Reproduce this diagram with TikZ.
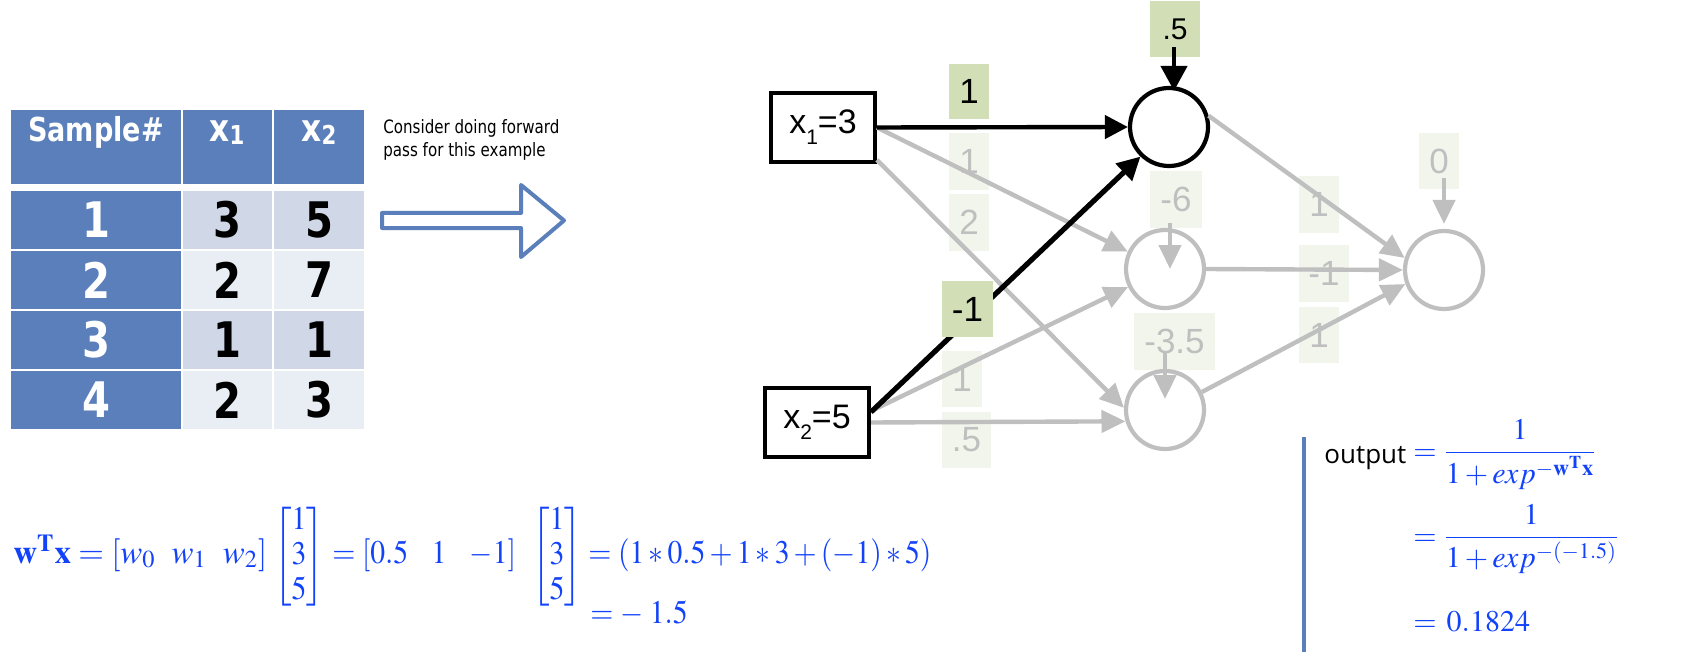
\documentclass[tikz,border=0pt]{standalone}
\usepackage{amsmath}
\usepackage{graphicx}
\usepackage{mathptmx}
\usepackage[no-math]{fontspec}
\usetikzlibrary{arrows.meta,calc}
\newfontfamily\tah[FakeStretch=0.82]{DejaVu Sans}
\newfontfamily\ari{Liberation Sans}
\newfontfamily\osans{Open Sans}
\definecolor{tblue}{HTML}{5A7FBA}
\definecolor{cellA}{HTML}{D0D8E8}
\definecolor{cellB}{HTML}{E9EDF4}
\definecolor{lgreen}{HTML}{D2DEB5}
\definecolor{fgreen}{HTML}{F2F5EC}
\definecolor{lgray}{HTML}{BFBFBF}
\definecolor{fblue}{RGB}{18,66,250}
\newcommand{\nx}[1]{\scalebox{0.9}[1]{#1}}
\tikzset{
  cell/.style={inner sep=0pt, outer sep=0pt},
  hcell/.style={cell, fill=tblue, text=white, font=\tah\bfseries\fontsize{24.5}{26}\selectfont},
  dcell/.style={cell, text=black, font=\tah\bfseries\fontsize{24.5}{26}\selectfont},
  inbox/.style={draw=black, line width=2pt, minimum width=52pt, minimum height=34.5pt, inner sep=0pt, font=\ari\fontsize{17}{20}\selectfont},
  neuronb/.style={circle, draw=black, line width=2.1pt, minimum size=39pt, inner sep=0pt},
  neurong/.style={circle, draw=lgray, line width=2.1pt, minimum size=39pt, inner sep=0pt},
  wlab/.style={fill=lgreen, inner sep=0pt, font=\ari\fontsize{17.5}{19}\selectfont},
  wfade/.style={fill=fgreen, text=lgray, inner sep=0pt, font=\ari\fontsize{17.5}{19}\selectfont},
  bline/.style={draw=black, line width=2.2pt, -{Triangle[length=11.5pt,width=11.5pt]}},
  gline/.style={draw=lgray, line width=2.2pt, -{Triangle[length=12pt,width=11pt]}},
  fml/.style={text=fblue, inner sep=0pt, font=\fontsize{16.5}{17.5}\selectfont},
  sml/.style={text=fblue, inner sep=0pt, font=\fontsize{15}{17}\selectfont},
}
\begin{document}
\begin{tikzpicture}[x=0.5pt,y=-0.5pt]
\path[use as bounding box] (0,0) rectangle (1684,668);

% ---------------- table ----------------
\node[cell, fill=tblue, minimum width=85pt, minimum height=37pt] (h0) at (96,147) {};
\node[cell, fill=tblue, minimum width=44.5pt, minimum height=37pt] (hx1) at (227.5,147) {};
\node[cell, fill=tblue, minimum width=45pt, minimum height=37pt] (hx2) at (319,147) {};
\node[anchor=base, inner sep=0pt, text=white, font=\tah\bfseries\fontsize{16.5}{18}\selectfont] (thsample) at (96,142) {Sample\#};
\node[anchor=base, inner sep=0pt, text=white, font=\tah\bfseries\fontsize{19}{19}\selectfont] (thx1) at (227,142) {x\raisebox{-1.5pt}{\fontsize{13}{13}\selectfont 1}};
\node[anchor=base, inner sep=0pt, text=white, font=\tah\bfseries\fontsize{19}{19}\selectfont] (thx2) at (319,142) {x\raisebox{-1.5pt}{\fontsize{13}{13}\selectfont 2}};

\node[hcell, minimum width=85pt, minimum height=29pt] (r1c1) at (96,220) {1};
\node[dcell, fill=cellA, minimum width=44.5pt, minimum height=29pt] (r1c2) at (227.5,220) {3};
\node[dcell, fill=cellA, minimum width=45pt, minimum height=29pt] (r1c3) at (319,220) {5};
\node[hcell, minimum width=85pt, minimum height=29pt] (r2c1) at (96,280) {2};
\node[dcell, fill=cellB, minimum width=44.5pt, minimum height=29pt] (r2c2) at (227.5,280) {2};
\node[dcell, fill=cellB, minimum width=45pt, minimum height=29pt] (r2c3) at (319,280) {7};
\node[hcell, minimum width=85pt, minimum height=29pt] (r3c1) at (96,340) {3};
\node[dcell, fill=cellA, minimum width=44.5pt, minimum height=29pt] (r3c2) at (227.5,340) {1};
\node[dcell, fill=cellA, minimum width=45pt, minimum height=29pt] (r3c3) at (319,340) {1};
\node[hcell, minimum width=85pt, minimum height=29pt] (r4c1) at (96,400) {4};
\node[dcell, fill=cellB, minimum width=44.5pt, minimum height=29pt] (r4c2) at (227.5,400) {2};
\node[dcell, fill=cellB, minimum width=45pt, minimum height=29pt] (r4c3) at (319,400) {3};

% ---------------- note + block arrow ----------------
\node[anchor=base west, align=left, inner sep=0pt, font=\tah\fontsize{9.2}{11.5}\selectfont] (note) at (383,157) {Consider doing forward\\pass for this example};
\draw[tblue, line width=2pt, line join=round, fill=white]
  (382,213) -- (521,213) -- (521,185) -- (564,220.5) -- (521,257) -- (521,228) -- (382,228) -- cycle;

% ---------------- faded labels (under the lines) ----------------
\node[wfade, minimum width=20pt, minimum height=28.5pt] (wf1) at (969,161.5) {1};
\node[wfade, minimum width=20pt, minimum height=28.5pt] (wf2) at (969,222.5) {2};
\node[wfade, minimum width=20pt, minimum height=28pt] (wf3) at (962,379) {1};
\node[wfade, minimum width=24.5pt, minimum height=28pt] (wf4) at (966.5,440) {.5};
\node[wfade, minimum width=20pt, minimum height=28.5pt] (wo1) at (1319,204.5) {1};
\node[wfade, minimum width=25pt, minimum height=28.5pt] (wo2) at (1324,273.5) {-1};
\node[wfade, minimum width=20pt, minimum height=28pt] (wo3) at (1319,335) {1};
\node[wfade, minimum width=26pt, minimum height=28.5pt] (bb2) at (1176,199.5) {-6};
\node[wfade, minimum width=40.5pt, minimum height=28.5pt] (bb3) at (1174.5,341.5) {-3.5};
\node[wfade, minimum width=20pt, minimum height=28pt] (bo) at (1439,161) {0};

% ---------------- inputs and neurons ----------------
\node[inbox] (x1) at (823,127.5) {x\raisebox{-5.5pt}{\fontsize{10.5}{11}\selectfont 1}=3};
\node[inbox] (x2) at (817,422.5) {x\raisebox{-5.5pt}{\fontsize{10.5}{11}\selectfont 2}=5};
\node[neuronb] (h1) at (1169,127) {};
\node[neurong] (h2) at (1165,269) {};
\node[neurong] (h3) at (1165,410) {};
\node[neurong] (out) at (1444,270) {};

% ---------------- gray connectors ----------------
\draw[gline] (x1.east) -- (h2.155);
\draw[gline] (x1.-31) -- (h3.177);
\draw[gline] (x2.12) -- (h2.206);
\draw[gline] (x2.east) -- (h3.196);
\draw[gline] (h1.16) -- (out.163);
\draw[gline] (h2.east) -- (out.west);
\draw[gline] (h3.26) -- (out.200);
\draw[gline] ($(bb2.south)+(-6,-5)$) -- ($(bb2.south |- h2.center)+(-6,0)$);
\draw[gline] ($(bb3.south)+(-9.5,-18)$) -- ($(bb3.south |- h3.center)+(-9.5,-11)$);
\draw[gline] ($(out.north |- bo.south)+(0,-11)$) -- ($(out.north)+(0,-5)$);

% ---------------- black connectors ----------------
\draw[bline] (x1.east) -- (h1.west);
\draw[bline, line width=2.6pt] (x2.11) -- (h1.226);

% ---------------- highlighted labels ----------------
\node[wlab, minimum width=20pt, minimum height=27.5pt] (wl1) at (969,91.5) {1};
\node[wlab, minimum width=25.5pt, minimum height=28pt] (wlm) at (967.5,309) {-1};
\node[wlab, minimum width=25pt, minimum height=28pt, font=\ari\fontsize{15}{17}\selectfont] (b1) at (1175,29) {.5};
\draw[bline, -{Triangle[length=12.5pt,width=13pt]}] ($(b1.south)+(-1,-10)$) -- ($(b1.south |- h1.north)+(-1,5)$);

% ---------------- w^T x formula ----------------
\node[fml, anchor=base west] (fa) at (13,563) {$\mathbf{w}^{\mathbf{T}}\mathbf{x} = [w_0\hspace{8pt} w_1\hspace{8pt} w_2]$};
\node[fml, anchor=west] (ma) at (274,557) {\nx{$\begin{bmatrix}1\\3\\5\end{bmatrix}$}};
\node[fml, anchor=base west] (fb) at (332,563) {\nx{$=[0.5\hspace{13pt}1\hspace{13pt}{-1}]$}};
\node[fml, anchor=west] (mb) at (532,557) {\nx{$\begin{bmatrix}1\\3\\5\end{bmatrix}$}};
\node[fml, anchor=base west] (fc) at (588,563) {\nx{$=(1*0.5+1*3+(-1)*5)$}};
\node[fml, anchor=base west] (fd) at (590,623) {\nx{$= -\;1.5$}};

% ---------------- sigmoid output ----------------
\draw[tblue, line width=2pt] (1304,437) -- (1304,652);
\node[anchor=base west, inner sep=0pt, font=\osans\fontsize{13}{15}\selectfont] (outt) at (1324,463) {output};
\node[sml, anchor=base west] (s1) at (1413,460) {$\displaystyle =\frac{1}{1+exp^{-\mathbf{w}^{\mathbf{T}}\mathbf{x}}}$};
\node[sml, anchor=base west] (s2) at (1413,545) {$\displaystyle =\frac{1}{1+exp^{-(-1.5)}}$};
\node[sml, anchor=base west] (s3) at (1413,631) {$=\,0.1824$};
\end{tikzpicture}
\end{document}
